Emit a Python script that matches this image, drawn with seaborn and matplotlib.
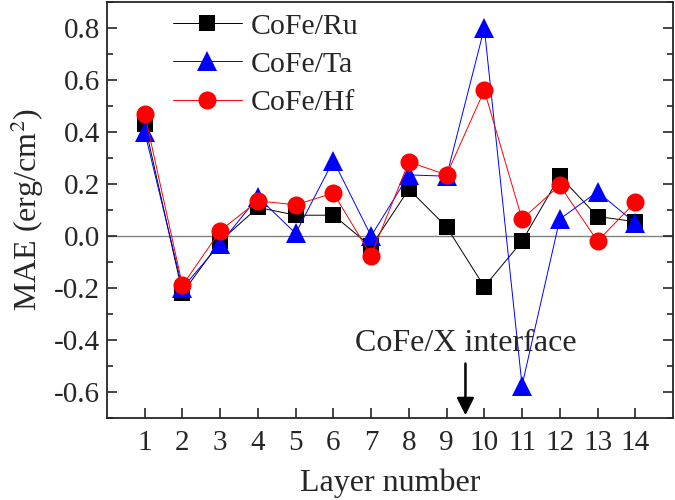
import pandas as pd
import seaborn as sns
import matplotlib.pyplot as plt
from matplotlib.lines import Line2D

# Données
layers = list(range(1, 15))
ru = [0.43, -0.22, -0.02, 0.11, 0.08, 0.08, -0.04, 0.18, 0.035, -0.195, -0.02, 0.23, 0.075, 0.055]
ta = [0.40, -0.20, -0.03, 0.15, 0.01, 0.29, 0.0, 0.235, 0.23, 0.80, -0.575, 0.065, 0.17, 0.05]
hf = [0.47, -0.19, 0.02, 0.135, 0.12, 0.165, -0.075, 0.285, 0.235, 0.56, 0.065, 0.195, -0.02, 0.13]
labels = ['CoFe/Ru', 'CoFe/Ta', 'CoFe/Hf']
colors = ['black', 'blue', 'red']
markers = ['s', '^', 'o']
sizes = [11, 14, 13]

sns.set_style('ticks')
plt.rcParams['font.family'] = ['Liberation Serif', 'DejaVu Serif']
plt.rcParams['mathtext.fontset'] = 'stix'

fig = plt.figure(figsize=(6.75, 5), dpi=100)
ax = fig.add_axes([0.1585, 0.164, 0.8385, 0.832])

ax.axhline(0, color='gray', lw=1, zorder=0)

handles = []
for vals, lab, c, m, s in zip([ru, ta, hf], labels, colors, markers, sizes):
    df = pd.DataFrame({'layer': layers, 'mae': vals})
    sns.lineplot(x='layer', y='mae', data=df, ax=ax, color=c, lw=0.7,
                 marker=m, markersize=s, markeredgewidth=0, legend=False)
    handles.append(Line2D([], [], color=c, lw=0.7, marker=m, markersize=s,
                          markeredgewidth=0, label=lab))

ax.set_xlim(0, 15)
ax.set_ylim(-0.7, 0.9)
ax.set_xticks(layers)
ax.set_yticks([-0.6, -0.4, -0.2, 0.0, 0.2, 0.4, 0.6, 0.8])
ax.set_yticks([v / 10 for v in range(-7, 10)], minor=True)
ax.set_yticklabels(['-0.6', '-0.4', '-0.2', '0.0', '0.2', '0.4', '0.6', '0.8'])
ax.tick_params(axis='both', direction='in', labelsize=21, length=7, width=1.2, right=True)
ax.tick_params(axis='x', pad=9)
ax.tick_params(axis='y', pad=5)
ax.tick_params(axis='y', which='minor', direction='in', length=4, width=1.2, right=True)
for sp in ax.spines.values():
    sp.set_linewidth(1.3)

ax.set_xlabel('Layer number', fontsize=23, labelpad=9)
ax.set_ylabel('MAE (erg/cm$^2$)', fontsize=23, labelpad=6)

ax.annotate('', xy=(9.5, -0.7), xytext=(9.5, -0.48),
            arrowprops=dict(arrowstyle='-|>', color='black', lw=1.8, mutation_scale=26))
ax.text(9.5, -0.415, 'CoFe/X interface', fontsize=23, ha='center', va='center')

ax.legend(handles=handles, loc='upper left', bbox_to_anchor=(0.09, 1.01), frameon=False,
          fontsize=21.5, handlelength=2.3, labelspacing=0.38, handletextpad=0.3,
          borderaxespad=0.1)

fig.savefig('out.png', dpi=100)
